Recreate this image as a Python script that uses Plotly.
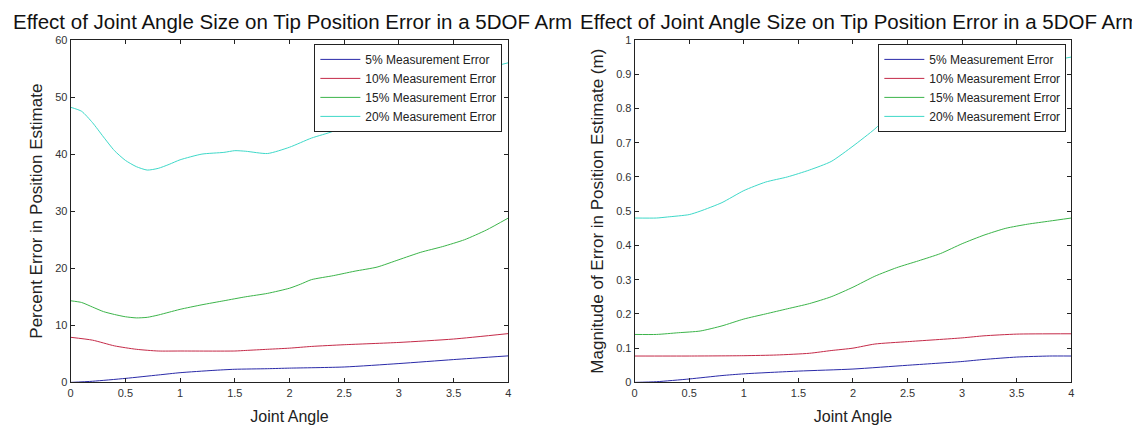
import plotly.graph_objects as go

# ---------------- data ----------------
series_names = ["5% Measurement Error", "10% Measurement Error",
                "15% Measurement Error", "20% Measurement Error"]
colors = ["#2a2aa8", "#c42a48", "#3cb44a", "#3ed8c8"]

# Left panel: percent error
l5_x = [0, 0.2, 0.5, 0.8, 1.0, 1.3, 1.5, 1.8, 2.0, 2.5, 3.0, 3.5, 4.0]
l5_y = [0, 0.2, 0.7, 1.3, 1.7, 2.1, 2.3, 2.4, 2.5, 2.7, 3.3, 4.0, 4.65]

l10_x = [0, 0.2, 0.4, 0.6, 0.8, 1.0, 1.5, 1.6, 1.8, 2.0, 2.2, 2.5, 3.0, 3.5, 4.0]
l10_y = [7.9, 7.4, 6.4, 5.8, 5.5, 5.5, 5.5, 5.6, 5.8, 6.0, 6.3, 6.6, 7.0, 7.6, 8.55]

l15_x = [0, 0.1, 0.2, 0.3, 0.4, 0.5, 0.6, 0.7, 0.8, 0.9, 1.0, 1.2, 1.4, 1.6, 1.8,
         2.0, 2.1, 2.2, 2.4, 2.5, 2.6, 2.8, 3.0, 3.2, 3.4, 3.6, 3.8, 4.0]
l15_y = [14.3, 14.0, 13.2, 12.4, 11.9, 11.5, 11.3, 11.4, 11.8, 12.3, 12.8, 13.6,
         14.3, 15.0, 15.6, 16.5, 17.2, 18.0, 18.7, 19.1, 19.5, 20.2, 21.5, 22.8,
         23.8, 25.0, 26.7, 28.8]

l20_x = [0, 0.1, 0.2, 0.3, 0.4, 0.5, 0.6, 0.7, 0.8, 0.9, 1.0, 1.2, 1.4, 1.5, 1.6,
         1.8, 2.0, 2.2, 2.4, 2.5, 2.6, 2.8, 3.0, 3.5, 4.0]
l20_y = [48.2, 47.5, 45.5, 43.0, 40.6, 38.9, 37.8, 37.2, 37.5, 38.2, 39.0, 40.0,
         40.3, 40.6, 40.5, 40.1, 41.2, 42.8, 44.0, 45.0, 46.0, 48.0, 50.0, 53.5, 56.0]

# Right panel: magnitude of error (m)
r5_x = [0, 0.2, 0.5, 0.8, 1.0, 1.5, 2.0, 2.5, 3.0, 3.2, 3.5, 3.8, 4.0]
r5_y = [0, 0.002, 0.01, 0.02, 0.025, 0.033, 0.039, 0.05, 0.061, 0.067, 0.074, 0.077, 0.077]

r10_x = [0, 0.5, 1.0, 1.3, 1.6, 1.8, 2.0, 2.2, 2.5, 3.0, 3.2, 3.5, 4.0]
r10_y = [0.077, 0.077, 0.078, 0.08, 0.085, 0.093, 0.1, 0.112, 0.119, 0.13, 0.136, 0.141, 0.142]

r15_x = [0, 0.2, 0.4, 0.6, 0.8, 1.0, 1.2, 1.4, 1.6, 1.8, 2.0, 2.2, 2.4, 2.6, 2.8,
         3.0, 3.2, 3.4, 3.6, 3.8, 4.0]
r15_y = [0.14, 0.14, 0.145, 0.15, 0.165, 0.185, 0.2, 0.215, 0.23, 0.25, 0.278,
         0.31, 0.335, 0.355, 0.376, 0.405, 0.43, 0.45, 0.462, 0.471, 0.48]

r20_x = [0, 0.2, 0.3, 0.5, 0.6, 0.8, 1.0, 1.2, 1.4, 1.6, 1.8, 2.0, 2.2, 2.3, 2.5,
         3.0, 3.5, 4.0]
r20_y = [0.48, 0.48, 0.483, 0.49, 0.5, 0.525, 0.56, 0.585, 0.6, 0.62, 0.645,
         0.69, 0.74, 0.77, 0.82, 0.88, 0.92, 0.95]

left_series = [(l5_x, l5_y), (l10_x, l10_y), (l15_x, l15_y), (l20_x, l20_y)]
right_series = [(r5_x, r5_y), (r10_x, r10_y), (r15_x, r15_y), (r20_x, r20_y)]

title_text = "Effect of Joint Angle Size on Tip Position Error in a 5DOF Arm"
left_ylabel = "Percent Error in Position Estimate"
right_ylabel = "Magnitude of Error in Position Estimate (m)"
xlabel = "Joint Angle"

x_ticks = [0, 0.5, 1, 1.5, 2, 2.5, 3, 3.5, 4]
left_yticks = [0, 10, 20, 30, 40, 50, 60]
right_yticks = [0, 0.1, 0.2, 0.3, 0.4, 0.5, 0.6, 0.7, 0.8, 0.9, 1]
right_yticklabels = ["0", "0.1", "0.2", "0.3", "0.4", "0.5", "0.6", "0.7", "0.8", "0.9", "1"]

# ---------------- figure ----------------
OFF = 8  # default page body margin
W, H = 1140 - 2 * OFF, 433 - 2 * OFF
FONT = "Liberation Sans, Arial, sans-serif"

fig = go.Figure()
for (x, y), name, c in zip(left_series, series_names, colors):
    fig.add_trace(go.Scatter(x=x, y=y, mode="lines", name=name,
                             line=dict(color=c, width=1, shape="spline", smoothing=0.6),
                             xaxis="x", yaxis="y", legend="legend"))
for (x, y), name, c in zip(right_series, series_names, colors):
    fig.add_trace(go.Scatter(x=x, y=y, mode="lines", name=name,
                             line=dict(color=c, width=1, shape="spline", smoothing=0.6),
                             xaxis="x2", yaxis="y2", legend="legend2"))


def px_x(p):
    return (p - OFF) / W


def px_y(p):
    # empirical correction of the vertical placement on screen
    page = (p - 5) / 0.974
    return 1 - (page - OFF) / H


axis_common = dict(showline=True, linecolor="#222", linewidth=1, mirror="ticks",
                   ticks="inside", ticklen=4, tickcolor="#222", showgrid=False,
                   zeroline=False, tickfont=dict(family=FONT, size=11, color="#333"))

ydom = [px_y(385), px_y(39)]
legend_common = dict(xanchor="right", yanchor="top", bgcolor="white",
                     bordercolor="#222", borderwidth=1,
                     font=dict(family=FONT, size=12, color="#222"),
                     itemwidth=40, tracegroupgap=0)
fig.update_layout(
    width=W, height=H, margin=dict(l=0, r=0, t=0, b=0),
    paper_bgcolor="white", plot_bgcolor="white",
    font=dict(family=FONT, color="#222"),
    xaxis=dict(domain=[px_x(68), px_x(508)], range=[0, 4], tickvals=x_ticks,
               anchor="y", title=dict(text=xlabel, font=dict(size=16), standoff=15), **axis_common),
    yaxis=dict(domain=ydom, range=[0, 60], tickvals=left_yticks, anchor="x",
               title=dict(text=left_ylabel, font=dict(size=17), standoff=8), **axis_common),
    xaxis2=dict(domain=[px_x(635), px_x(1074)], range=[0, 4], tickvals=x_ticks,
                anchor="y2", title=dict(text=xlabel, font=dict(size=16), standoff=15), **axis_common),
    yaxis2=dict(domain=ydom, range=[0, 1], tickvals=right_yticks, ticktext=right_yticklabels,
                anchor="x2", title=dict(text=right_ylabel, font=dict(size=17), standoff=8), **axis_common),
    legend=dict(x=px_x(502), y=px_y(43), **legend_common),
    legend2=dict(x=px_x(1069), y=px_y(43), **legend_common),
    annotations=[
        dict(text=title_text, x=px_x(8), y=px_y(20), xref="paper", yref="paper",
             xanchor="left", yanchor="middle", showarrow=False,
             font=dict(family=FONT, size=20.5, color="#111")),
        dict(text=title_text, x=px_x(578), y=px_y(20), xref="paper", yref="paper",
             xanchor="left", yanchor="middle", showarrow=False,
             font=dict(family=FONT, size=20.5, color="#111")),
    ],
)

fig.write_html("out.html")
